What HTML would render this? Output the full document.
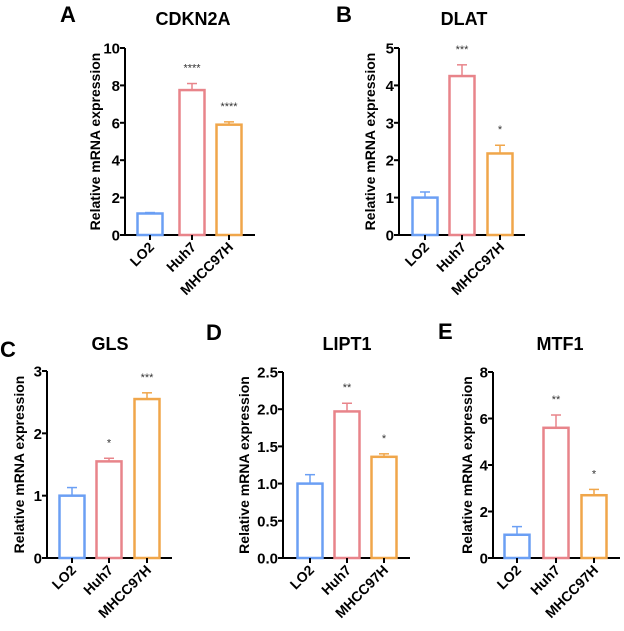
<!DOCTYPE html>
<html><head><meta charset="utf-8"><style>
body{margin:0;background:#fff;width:624px;height:626px;overflow:hidden}
svg{font-family:"Liberation Sans",Arial,sans-serif;font-weight:bold}
</style></head><body>
<svg id="fig" width="624" height="626" viewBox="0 0 624 626"></svg>
<script>
const categories=["LO2","Huh7","MHCC97H"];
const colors=["#6b9ff4","#e8848a","#f0a64a"];
const valsA=[1.15,7.75,5.9], errA=[0.05,0.35,0.15], starsA=["","****","****"];
const valsB=[1.0,4.25,2.18], errB=[0.15,0.3,0.22], starsB=["","***","*"];
const valsC=[1.0,1.55,2.55], errC=[0.13,0.05,0.1], starsC=["","*","***"];
const valsD=[1.0,1.97,1.36], errD=[0.12,0.11,0.04], starsD=["","**","*"];
const valsE=[1.0,5.6,2.7], errE=[0.35,0.55,0.25], starsE=["","**","*"];
const ticksA=[0,2,4,6,8,10], ticksB=[0,1,2,3,4,5], ticksC=[0,1,2,3];
const ticksD=["0.0","0.5","1.0","1.5","2.0","2.5"], ticksE=[0,2,4,6,8];
const NS="http://www.w3.org/2000/svg";
const svg=document.getElementById('fig');
function mk(tag,attrs,parent,text){const e=document.createElementNS(NS,tag);for(const k in attrs)e.setAttribute(k,attrs[k]);if(text!==undefined)e.textContent=text;(parent||svg).appendChild(e);return e;}
function panel(p){
 const g=mk('g',{});
 
 
 const ymax=Number(p.ticks[p.ticks.length-1]);
 const y=v=>p.y0-(v/ymax)*(p.y0-p.ytop);
 const lt=mk('text',{x:p.lx,y:p.ly,'font-size':22,fill:'#000'},g,p.id);
 
 const t=mk('text',{x:p.tx,y:p.ty,'font-size':18,'text-anchor':'middle',fill:'#000'},g,p.title);
 
 const yt=mk('text',{transform:`translate(${p.ax-p.yto},${(p.y0+p.ytop)/2}) rotate(-90)`,'font-size':14,'text-anchor':'middle',fill:'#000'},g,'Relative mRNA expression');
 
 const ya=mk('line',{x1:p.ax,y1:p.ytop,x2:p.ax,y2:p.y0+1,stroke:'#000','stroke-width':2},g);
 
 const xa=mk('line',{x1:p.ax-1,y1:p.y0,x2:p.ax+p.xend,y2:p.y0,stroke:'#000','stroke-width':2},g);
 
 p.ticks.forEach(tv=>{
  const yy=y(Number(tv));
  mk('line',{x1:p.ax-5,y1:yy,x2:p.ax,y2:yy,stroke:'#000','stroke-width':2},g);
  const tl=mk('text',{x:p.ax-5,y:yy+5.5,'font-size':15,'text-anchor':'end',fill:'#000'},g,String(tv));
  
 });
 categories.forEach((c,i)=>{
  const cx=p.ax+p.cx[i], w=25, v=p.vals[i], e=p.err[i];
  const b=mk('rect',{x:cx-w/2,y:y(v),width:w,height:p.y0-y(v),fill:'none',stroke:colors[i],'stroke-width':2.5},g);
  
  mk('line',{x1:cx,y1:y(v),x2:cx,y2:y(v+e),stroke:colors[i],'stroke-width':1.5},g);
  mk('line',{x1:cx-5,y1:y(v+e),x2:cx+5,y2:y(v+e),stroke:colors[i],'stroke-width':1.5},g);
  if(p.stars[i]){const s=mk('text',{x:cx,y:y(v+e)-12,'font-size':11,'font-weight':'normal','text-anchor':'middle',fill:'#333'},g,p.stars[i]);
   }
  mk('line',{x1:cx,y1:p.y0,x2:cx,y2:p.y0+5,stroke:'#000','stroke-width':2},g);
  const xl=mk('text',{transform:`translate(${cx+5},${p.y0+13}) rotate(-45)`,'font-size':14,'text-anchor':'end',fill:'#000'},g,c);
  
 });
}
panel({id:'A',title:'CDKN2A',lx:60,ly:22,tx:193,ty:25,ax:125,yto:25,ytop:48,y0:235,xend:130,cx:[25,67,104],vals:valsA,err:errA,stars:starsA,ticks:ticksA});
panel({id:'B',title:'DLAT',lx:336,ly:22,tx:464,ty:25,ax:399,yto:24,ytop:48,y0:235,xend:126,cx:[26,63,101],vals:valsB,err:errB,stars:starsB,ticks:ticksB});
panel({id:'C',title:'GLS',lx:0,ly:357,tx:110,ty:350,ax:47,yto:23,ytop:371,y0:558,xend:125,cx:[25,62,100],vals:valsC,err:errC,stars:starsC,ticks:ticksC});
panel({id:'D',title:'LIPT1',lx:206,ly:340,tx:347,ty:350,ax:283,yto:34,ytop:372,y0:558,xend:127,cx:[27,64,101],vals:valsD,err:errD,stars:starsD,ticks:ticksD});
panel({id:'E',title:'MTF1',lx:438,ly:339,tx:560,ty:350,ax:493,yto:21,ytop:372,y0:558,xend:127,cx:[24,63,101],vals:valsE,err:errE,stars:starsE,ticks:ticksE});
</script>
</body></html>
